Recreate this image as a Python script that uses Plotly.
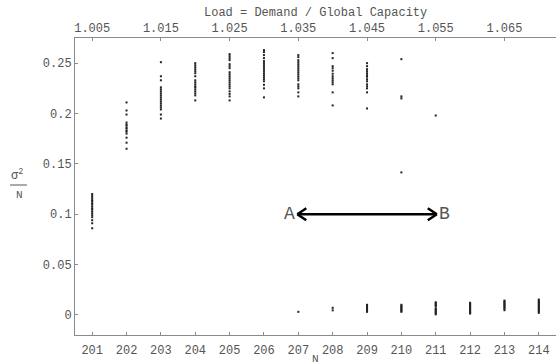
import plotly.graph_objects as go

# ---- data ----
N_201 = [0.120, 0.118, 0.116, 0.114, 0.113, 0.111, 0.110, 0.108, 0.106, 0.105,
         0.103, 0.101, 0.099, 0.097, 0.094, 0.091, 0.086]
N_202 = [0.211, 0.203, 0.199, 0.191, 0.189, 0.188, 0.186, 0.185, 0.183, 0.182,
         0.180, 0.176, 0.171, 0.165]
N_203 = [0.251, 0.237, 0.233, 0.226, 0.224, 0.222, 0.220, 0.218, 0.216, 0.214,
         0.212, 0.210, 0.208, 0.206, 0.204, 0.199, 0.195]
N_204 = [0.250, 0.248, 0.246, 0.244, 0.242, 0.240, 0.237, 0.233, 0.231, 0.229,
         0.227, 0.226, 0.224, 0.222, 0.220, 0.218, 0.213]
N_205 = [0.259, 0.257, 0.255, 0.253, 0.249, 0.247, 0.245, 0.241, 0.239, 0.237,
         0.235, 0.233, 0.231, 0.229, 0.227, 0.225, 0.222, 0.2195, 0.217, 0.213]
N_206 = [0.263, 0.261, 0.258, 0.255, 0.252, 0.250, 0.248, 0.246, 0.244, 0.242,
         0.240, 0.238, 0.236, 0.234, 0.232, 0.2285, 0.225, 0.216]
N_207 = [0.258, 0.256, 0.253, 0.251, 0.249, 0.247, 0.245, 0.243, 0.241, 0.239,
         0.237, 0.235, 0.233, 0.229, 0.227, 0.225, 0.221, 0.217, 0.003]
N_208 = [0.260, 0.255, 0.247, 0.245, 0.2425, 0.2395, 0.237, 0.235, 0.233, 0.231,
         0.229, 0.221, 0.208, 0.007, 0.0045]
N_209 = [0.250, 0.247, 0.244, 0.242, 0.240, 0.238, 0.2365, 0.234, 0.232, 0.229,
         0.227, 0.225, 0.221, 0.205,
         0.010, 0.009, 0.008, 0.007, 0.006, 0.005, 0.004, 0.003]
N_210 = [0.254, 0.217, 0.215, 0.1415,
         0.010, 0.009, 0.008, 0.007, 0.006, 0.005, 0.004, 0.003]
N_211 = [0.198, 0.0125, 0.0115, 0.0105, 0.0095, 0.0085, 0.0065, 0.0055, 0.0045,
         0.0035, 0.0025, 0.0015, 0.0005]
N_212 = [0.012, 0.011, 0.010, 0.009, 0.008, 0.007, 0.006, 0.005, 0.004, 0.003,
         0.002, 0.0013]
N_213 = [0.0142, 0.0132, 0.0122, 0.0112, 0.0102, 0.0092, 0.0082, 0.0072, 0.0060,
         0.0046]
N_214 = [0.0152, 0.0142, 0.0132, 0.0122, 0.0112, 0.0102, 0.0092, 0.0082, 0.0072,
         0.0062, 0.0052, 0.0042, 0.0032, 0.0020]

COLUMNS = {201: N_201, 202: N_202, 203: N_203, 204: N_204, 205: N_205,
           206: N_206, 207: N_207, 208: N_208, 209: N_209, 210: N_210,
           211: N_211, 212: N_212, 213: N_213, 214: N_214}

N_TICKS = list(range(201, 215))
Y_TICKS = [0, 0.05, 0.1, 0.15, 0.2, 0.25]
Y_TICK_TEXT = ["0", "0.05", "0.1", "0.15", "0.2", "0.25"]
LOAD_TICKS = [1.005, 1.015, 1.025, 1.035, 1.045, 1.055, 1.065]

ARROW_FROM = 207
ARROW_TO = 211
ARROW_Y = 0.1

# ---- helpers ----
N_RANGE = [200.5, 214.5]
def n_to_load(n):
    return 1.005 + (n - 201) * 0.005

xs, ys = [], []
for n, vals in COLUMNS.items():
    xs += [n] * len(vals)
    ys += vals

FONT = "Liberation Mono"
GRAY = "#555555"
AXIS = "#8a8a8a"
TF = dict(family=FONT, size=12, color=GRAY)

fig = go.Figure()
fig.add_trace(go.Scatter(x=xs, y=ys, mode="markers",
                         marker=dict(symbol="square", size=2, color="#222222",
                                     line=dict(width=0)),
                         hoverinfo="skip", showlegend=False))
# invisible trace carrying the top (load) axis
fig.add_trace(go.Scatter(x=[n_to_load(201)], y=[-1], xaxis="x2", mode="markers",
                         marker=dict(opacity=0), hoverinfo="skip", showlegend=False))

fig.update_layout(
    width=556, height=364,
    margin=dict(l=75, r=0, t=38, b=29),
    paper_bgcolor="white", plot_bgcolor="white",
    font=TF,
    xaxis=dict(range=N_RANGE, tickvals=N_TICKS, ticks="inside", ticklen=3,
               tickcolor=AXIS, showline=True, linecolor=AXIS, linewidth=1,
               showgrid=False, zeroline=False, ticklabelstandoff=4,
               automargin=False, tickfont=TF),
    xaxis2=dict(range=[n_to_load(N_RANGE[0]), n_to_load(N_RANGE[1])],
                overlaying="x", side="top", tickvals=LOAD_TICKS,
                ticktext=[f"{v:.3f}" for v in LOAD_TICKS],
                ticks="inside", ticklen=3, tickcolor=AXIS, showline=True,
                linecolor=AXIS, linewidth=1, showgrid=False, zeroline=False,
                ticklabelstandoff=0, automargin=False, tickfont=TF),
    yaxis=dict(range=[-0.02, 0.275], tickvals=Y_TICKS, ticktext=Y_TICK_TEXT,
               ticks="inside", ticklen=3, tickcolor=AXIS, showline=True,
               linecolor=AXIS, linewidth=1, showgrid=False, zeroline=False,
               automargin=False, tickfont=TF),
)

# axis titles
fig.add_annotation(text="N", xref="paper", yref="paper", x=0.5, y=-0.082,
                   xanchor="center", yanchor="middle", showarrow=False,
                   font=dict(family=FONT, size=11, color=GRAY))
fig.add_annotation(text="Load = Demand / Global Capacity", xref="paper", yref="paper",
                   x=0.5, y=1.084, xanchor="center", yanchor="middle",
                   showarrow=False, font=TF)

# y-axis label as fraction sigma^2 / N
fig.add_annotation(text="σ<sup>2</sup>", xref="paper", yref="paper",
                   x=-0.1205, y=0.54, xanchor="center", yanchor="middle",
                   showarrow=False, font=dict(family=FONT, size=12, color=GRAY))
fig.add_annotation(text="N", xref="paper", yref="paper",
                   x=-0.115, y=0.47, xanchor="center", yanchor="middle",
                   showarrow=False, font=dict(family=FONT, size=11, color=GRAY))
fig.add_shape(type="line", xref="paper", yref="paper",
              x0=-0.135, x1=-0.1, y0=0.505, y1=0.505,
              line=dict(color=GRAY, width=1))

# double-headed arrow A <-> B
fig.add_shape(type="line", xref="x", yref="y", x0=ARROW_FROM - 0.03, x1=ARROW_TO + 0.03,
              y0=ARROW_Y, y1=ARROW_Y, line=dict(color="black", width=2.5))
for anchor, sgn in [(ARROW_FROM - 0.03, 1), (ARROW_TO + 0.03, -1)]:
    for dy in (6, -6):
        fig.add_shape(type="line", xref="x", yref="y",
                      xsizemode="pixel", ysizemode="pixel",
                      xanchor=anchor, yanchor=ARROW_Y,
                      x0=0, x1=sgn * 9, y0=0, y1=dy,
                      line=dict(color="black", width=2.5))
fig.add_annotation(text="A", x=ARROW_FROM, y=ARROW_Y, xref="x", yref="y",
                   xanchor="right", yanchor="middle", xshift=-1, showarrow=False,
                   font=dict(family=FONT, size=18, color=GRAY))
fig.add_annotation(text="B", x=ARROW_TO, y=ARROW_Y, xref="x", yref="y",
                   xanchor="left", yanchor="middle", xshift=1, showarrow=False,
                   font=dict(family=FONT, size=18, color=GRAY))

fig.write_html("out.html")
